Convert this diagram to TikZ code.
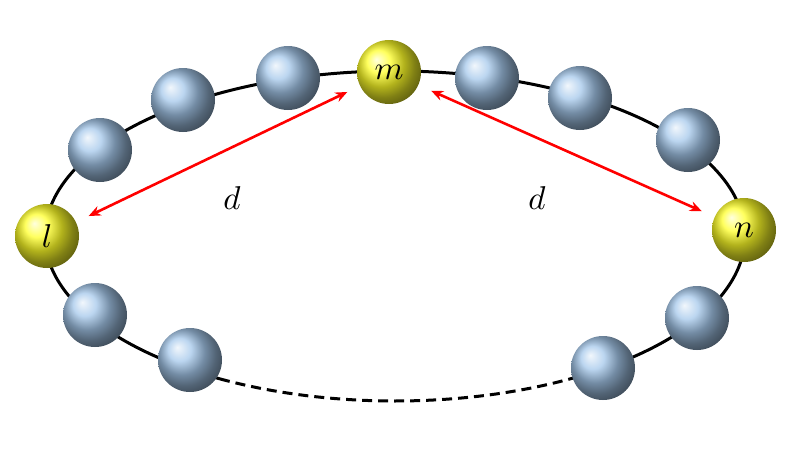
\documentclass[tikz,border=0pt]{standalone}
\usetikzlibrary{arrows.meta}
\begin{document}
\begin{tikzpicture}[x=1pt,y=-1pt,
  bluebead/.style={circle,minimum size=64pt,inner sep=0pt,shading=ball,ball color={rgb,255:red,165;green,200;blue,235}},
  yellowbead/.style={circle,minimum size=64pt,inner sep=0pt,shading=ball,ball color={rgb,255:red,255;green,255;blue,40}},
  redarrow/.style={red,line width=2.6pt,{Stealth[length=12pt,width=10pt]}-{Stealth[length=12pt,width=10pt]},shorten <=14pt,shorten >=14pt},
  lbl/.style={inner sep=0pt}]
\useasboundingbox (0,0) rectangle (808,455);
\draw[line width=3pt] (395,236) ++(-60:350 and -165) arc[start angle=-60,end angle=240,x radius=350,y radius=-165];
\draw[line width=3pt,dash pattern=on 10pt off 6pt] (395,236) ++(-120:350 and -165) arc[start angle=-120,end angle=-60,x radius=350,y radius=-165];
\node[bluebead] (b1) at (100,150) {};
\node[bluebead] (b2) at (183,100) {};
\node[bluebead] (b3) at (288,78) {};
\node[yellowbead] (m) at (389,72) {};
\node[bluebead] (b4) at (487,78) {};
\node[bluebead] (b5) at (580,98) {};
\node[bluebead] (b6) at (688,140) {};
\node[yellowbead] (n) at (744,230) {};
\node[bluebead] (b7) at (697,318) {};
\node[bluebead] (b8) at (603,368) {};
\node[bluebead] (b9) at (190,360) {};
\node[bluebead] (b10) at (95,315) {};
\node[yellowbead] (l) at (47,236) {};
\node[lbl] at (m) {\scalebox{3.3}{$m$}};
\node[lbl] at (n) {\scalebox{3.3}{$n$}};
\node[lbl] at (l) {\scalebox{3.3}{$l$}};
\draw[redarrow] (l) -- (m);
\draw[redarrow] (m) -- (n);
\node[lbl] (d1) at (232,198) {\scalebox{3.3}{$d$}};
\node[lbl] (d2) at (537,198) {\scalebox{3.3}{$d$}};
\end{tikzpicture}
\end{document}
